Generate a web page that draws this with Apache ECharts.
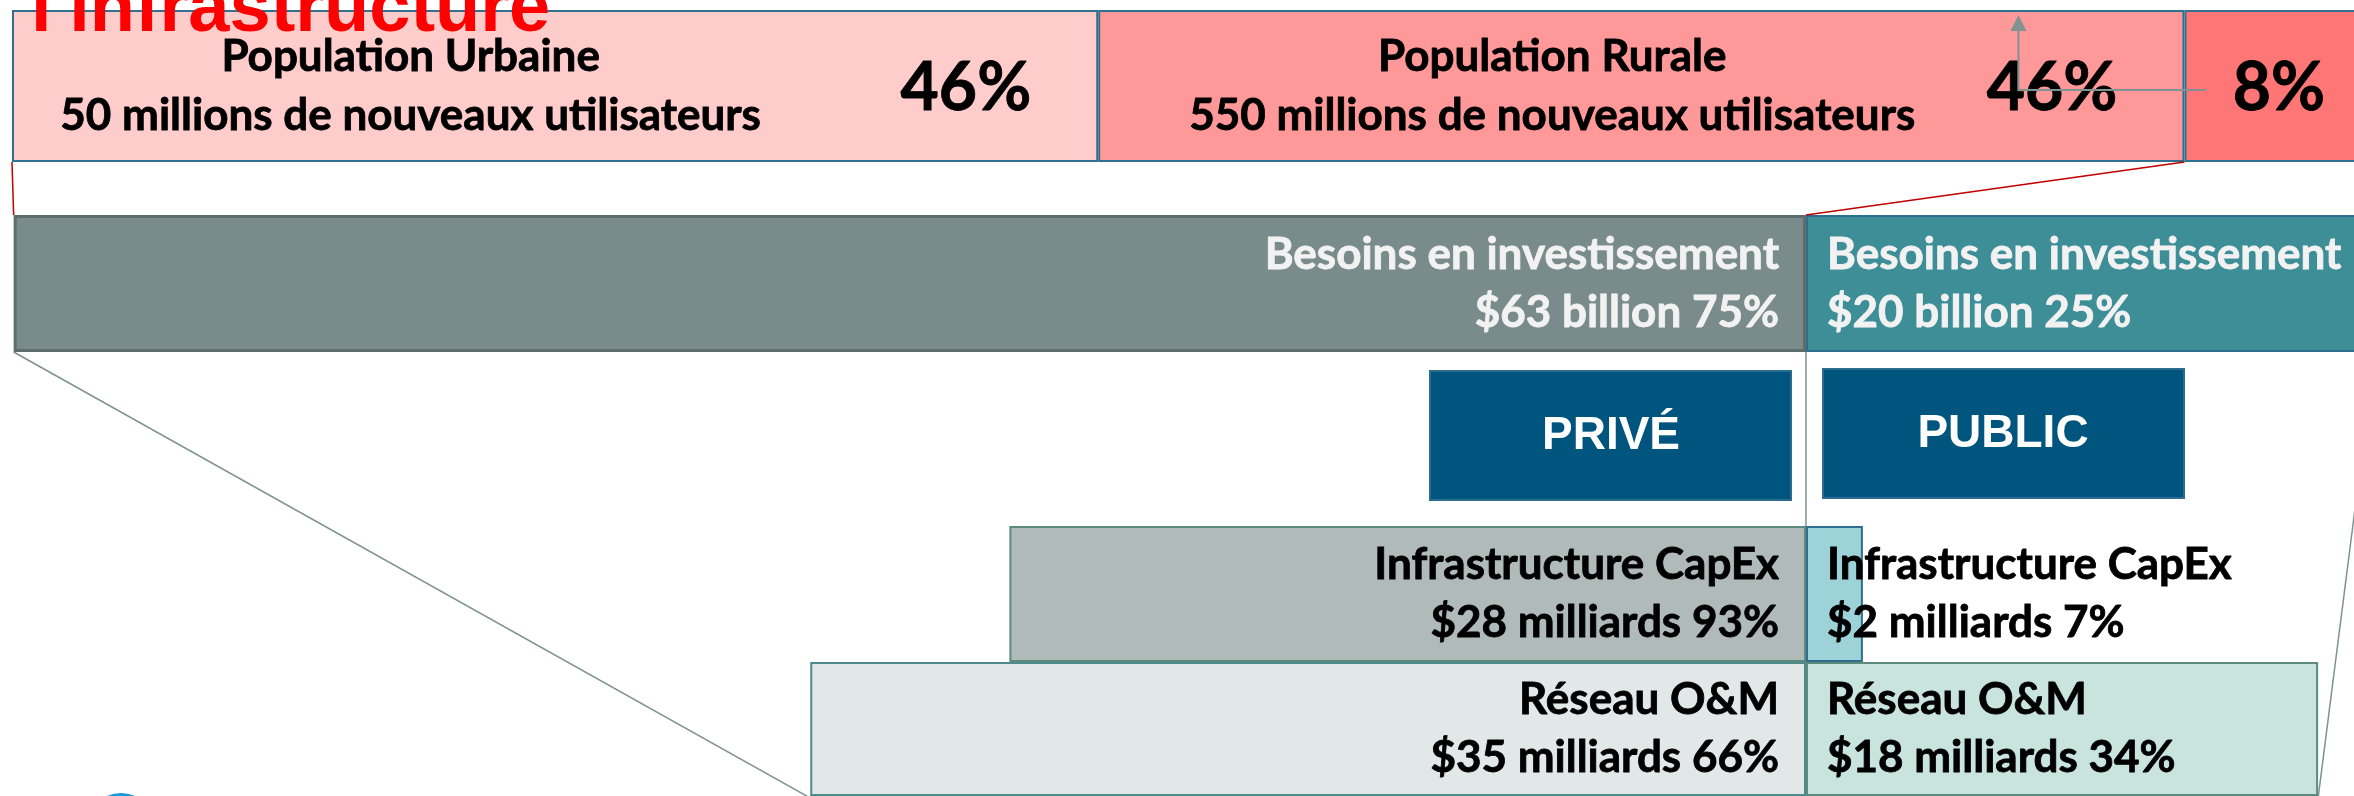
<!DOCTYPE html>
<html>
<head>
<meta charset="utf-8">
<title>Besoins en investissement</title>
<script src="https://cdn.jsdelivr.net/npm/echarts@6/dist/echarts.min.js"></script>
<style>
html, body { margin: 0; padding: 0; background: #fff; }
#myChart { width: 2354px; height: 796px; }
</style>
</head>
<body>
<div id="myChart"></div>
<script>
// population split (top band, % of new users)
const popNames = ['Population Urbaine', 'Population Rurale', ''];
const popUsers = ['50 millions de nouveaux utilisateurs', '550 millions de nouveaux utilisateurs', ''];
const popShare = [46, 46, 8];

// investment needs, in billions of $
const rowNames = ['Besoins en investissement', 'Infrastructure CapEx', 'Réseau O&M'];
const rowUnits = ['billion', 'milliards', 'milliards'];
const privValues = [63, 28, 35];
const pubValues = [20, 2, 18];
const privShare = [75, 93, 66];
const pubShare = [25, 7, 34];
const sideNames = ['PRIVÉ', 'PUBLIC'];
const titleText = "l'infrastructure";

// layout
const W = 2354;
const ZERO_X = 1806;          // where 0 sits on the billion axes
const PX_B = 28.45;           // px per billion
const POP_X0 = 12;
const PX_PCT = (privValues[0] + pubValues[0]) * PX_B / 100;
const bands = [
  { top: 10, height: 152 },
  { top: 215, height: 137 },
  { top: 526, height: 136 },
  { top: 662, height: 136 }
];
const FONT = 'Lato';

const popColors = ['#ffcccc', '#ff9999', '#ff7676'];
const popTextX = ['36.7%', '41.8%', '50%'];
const privStyles = [
  { color: '#7a8b8b', borderColor: '#5e6c6c', borderWidth: 3 },
  { color: '#afbab9', borderColor: '#5b8b7d', borderWidth: 2 },
  { color: '#e2e7e8', borderColor: '#4f8a8a', borderWidth: 2 }
];
const pubStyles = [
  { color: '#3d8e97', borderColor: '#2f6e8e', borderWidth: 2 },
  { color: '#9dd3d8', borderColor: '#2f6e8e', borderWidth: 2 },
  { color: '#c8e4dc', borderColor: '#5b8b7d', borderWidth: 2 }
];
const textColors = ['#f2f2f2', '#000', '#000'];

const myChart = echarts.init(document.getElementById('myChart'));

const grid = bands.map(b => ({ left: 0, right: 0, top: b.top, height: b.height }));
const xAxis = bands.map((b, i) => i === 0
  ? { gridIndex: 0, type: 'value', show: false, min: -POP_X0 / PX_PCT, max: (W - POP_X0) / PX_PCT }
  : { gridIndex: i, type: 'value', show: false, min: -ZERO_X / PX_B, max: (W - ZERO_X) / PX_B });
const yAxis = bands.map((b, i) => ({ gridIndex: i, type: 'category', show: false, data: ['r'] }));

// bold text, a touch heavier to get closer to the original's font
const boldText = (color, size, lh) => ({
  fontFamily: FONT, fontWeight: 'bold', fontSize: size, lineHeight: lh,
  color: color, textBorderColor: color, textBorderWidth: 0.8
});

const series = [];
popShare.forEach((v, i) => {
  series.push({
    type: 'bar', xAxisIndex: 0, yAxisIndex: 0, stack: 'pop', barWidth: '100%', clip: false,
    data: [v],
    itemStyle: { color: popColors[i], borderColor: '#31708f', borderWidth: 2 },
    label: Object.assign({
      show: popNames[i] !== '',
      position: [popTextX[i], '50%'], align: 'center', verticalAlign: 'middle',
      formatter: popNames[i] + '\n' + popUsers[i]
    }, boldText('#000', 44, 59))
  });
});
// same stack again, transparent, just to carry the % labels
popShare.forEach((v, i) => {
  series.push({
    type: 'bar', xAxisIndex: 0, yAxisIndex: 0, stack: 'popPct', barWidth: '100%', barGap: '-100%', clip: false,
    silent: true,
    data: [v],
    itemStyle: { color: 'rgba(0,0,0,0)' },
    label: Object.assign({
      show: true, position: i === 2 ? 'inside' : 'insideRight', distance: 67, offset: [0, 3],
      formatter: v + '%'
    }, boldText('#000', 66, 70))
  });
});

rowNames.forEach((name, r) => {
  const g = r + 1;
  series.push({
    type: 'bar', name: 'Privé', xAxisIndex: g, yAxisIndex: g, stack: 's' + r, barWidth: '100%', clip: false,
    data: [-privValues[r]],
    itemStyle: privStyles[r],
    label: Object.assign({
      show: true, position: 'insideRight', distance: 27,
      formatter: name + '\n$' + privValues[r] + ' ' + rowUnits[r] + ' ' + privShare[r] + '%'
    }, boldText(textColors[r], 44, 58))
  });
  series.push({
    type: 'bar', name: 'Public', xAxisIndex: g, yAxisIndex: g, stack: 's' + r, barWidth: '100%', clip: false,
    data: [pubValues[r]],
    itemStyle: pubStyles[r],
    label: Object.assign({
      show: true, position: 'insideLeft', distance: 21,
      formatter: name + '\n$' + pubValues[r] + ' ' + rowUnits[r] + ' ' + pubShare[r] + '%'
    }, boldText(textColors[r], 44, 58))
  });
});

myChart.setOption({
  animation: false,
  backgroundColor: '#fff',
  grid: grid,
  xAxis: xAxis,
  yAxis: yAxis,
  series: series
});

// connectors and boxes, placed through the axes
const bx = (g, v) => myChart.convertToPixel({ xAxisIndex: g }, v);
const bottom = b => b.top + b.height;
const zero = bx(1, 0);
const popSplit = bx(0, popShare[0] + popShare[1]);
const lineGray = { stroke: '#7f9292', lineWidth: 1.5 };
const lineRed = { stroke: '#c00000', lineWidth: 1.5 };
const arrowX = popSplit - 166;

const graphic = [
  { type: 'line', z: 10, shape: { x1: bx(0, 0), y1: bottom(bands[0]), x2: bx(1, -privValues[0]), y2: bands[1].top }, style: lineRed },
  { type: 'line', z: 10, shape: { x1: popSplit, y1: bottom(bands[0]), x2: zero, y2: bands[1].top }, style: lineRed },
  { type: 'line', z: 10, shape: { x1: bx(1, -privValues[0]), y1: bottom(bands[1]), x2: bx(3, -privValues[2]), y2: bottom(bands[3]) }, style: lineGray },
  { type: 'line', z: 10, shape: { x1: bx(1, pubValues[0]), y1: bottom(bands[1]), x2: bx(3, pubValues[2]), y2: bottom(bands[3]) }, style: lineGray },
  { type: 'line', z: 10, shape: { x1: zero, y1: bottom(bands[1]), x2: zero, y2: bands[2].top }, style: lineGray },
  // stray arrow over the rural box
  { type: 'polyline', z: 10, shape: { points: [[arrowX, 30], [arrowX, 90], [popSplit + 21, 90]] }, style: { stroke: '#7f9393', lineWidth: 2, fill: null } },
  { type: 'polygon', z: 10, shape: { points: [[arrowX - 8, 31], [arrowX + 8, 31], [arrowX, 15]] }, style: { fill: '#7f9393' } },
  // side boxes
  { type: 'rect', z: 10, shape: { x: zero - 15 - 361, y: 371, width: 361, height: 129 }, style: { fill: '#00557f', stroke: '#2a6d8f', lineWidth: 2 } },
  { type: 'rect', z: 10, shape: { x: zero + 17, y: 369, width: 361, height: 129 }, style: { fill: '#00557f', stroke: '#2a6d8f', lineWidth: 2 } },
  { type: 'text', z: 11, x: zero - 15 - 180, y: 436, style: { text: sideNames[0], fill: '#fff', font: 'bold 46px "Liberation Sans"', align: 'center', verticalAlign: 'middle' } },
  { type: 'text', z: 11, x: zero + 17 + 180, y: 434, style: { text: sideNames[1], fill: '#fff', font: 'bold 46px "Liberation Sans"', align: 'center', verticalAlign: 'middle' } },
  // title, mostly off the top edge
  { type: 'text', z: 12, x: 31, y: 11, style: { text: titleText, fill: '#ff0000', font: 'bold 74px "Liberation Sans"', align: 'left', verticalAlign: 'middle' } },
  // logo peeking in at the bottom
  { type: 'circle', z: 10, shape: { cx: 121, cy: 828, r: 35 }, style: { fill: '#1a9ad6' } }
];
myChart.setOption({ graphic: graphic });
</script>
</body>
</html>
